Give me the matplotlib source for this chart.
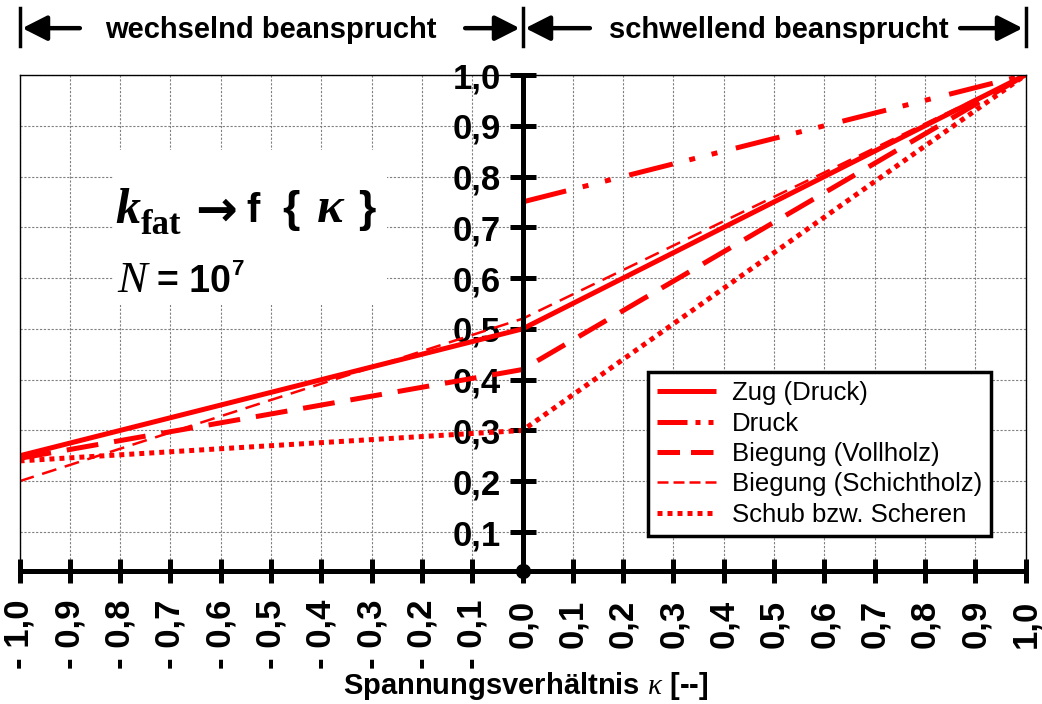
import numpy as np
import matplotlib
matplotlib.use('Agg')
import matplotlib.pyplot as plt
from matplotlib.transforms import blended_transform_factory
from matplotlib.patches import Rectangle
from matplotlib.lines import Line2D

plt.rcParams['mathtext.fontset'] = 'custom'
plt.rcParams['mathtext.rm'] = 'Liberation Sans:bold'
plt.rcParams['mathtext.it'] = 'Liberation Serif:italic'
plt.rcParams['mathtext.bf'] = 'Liberation Sans:bold'

# data
kappa = [-1.0, 0.0, 1.0]
kappa_druck = [0.0, 1.0]
zug = [0.25, 0.50, 1.00]
druck = [0.75, 1.00]
vollholz = [0.245, 0.42, 1.00]
schichtholz = [0.20, 0.52, 1.00]
schub = [0.24, 0.30, 1.00]
labels = ['Zug (Druck)', 'Druck', 'Biegung (Vollholz)',
          'Biegung (Schichtholz)', 'Schub bzw. Scheren']

x_ticks = np.linspace(-1.0, 1.0, 21)
x_ticklabels = ['- 1,0', '- 0,9', '- 0,8', '- 0,7', '- 0,6', '- 0,5', '- 0,4',
                '- 0,3', '- 0,2', '- 0,1', '0,0', '0,1', '0,2', '0,3', '0,4',
                '0,5', '0,6', '0,7', '0,8', '0,9', '1,0']
y_ticks = np.linspace(0.1, 1.0, 10)
y_ticklabels = ['0,1', '0,2', '0,3', '0,4', '0,5', '0,6', '0,7', '0,8', '0,9', '1,0']

red = '#ff0000'
sans = 'Liberation Sans'
serif = 'Liberation Serif'

# line styles: (linewidth, plot dashes, legend dashes)
styles = [
    (3.6, '-', '-'),
    (3.6, (0, (9, 3.4, 1.2, 3.4, 1.2, 3.8)), (0, (6, 1.6, 1, 1.6, 1, 2))),
    (3.6, (0, (6.4, 3.2)), (0, (4.5, 2.2))),
    (1.8, (0, (6, 3.5)), (0, (4.4, 2))),
    (3.6, (0, (1, 1)), (0, (1, 1))),
]

fig = plt.figure(figsize=(10.42, 7.04), dpi=100)
ax = fig.add_axes([19.5/1042, 133/704, 1006/1042, 496/704])
ax.set_xlim(-1.0, 1.0)
ax.set_ylim(0.0232, 1.0)

series = [(kappa, zug), (kappa_druck, druck), (kappa, vollholz),
          (kappa, schichtholz), (kappa, schub)]
handles = []
for (xs, ys), (lw, ls, ls_leg), lab in zip(series, styles, labels):
    ax.plot(xs, ys, color=red, lw=lw, ls=ls, solid_capstyle='butt',
            dash_capstyle='butt')
    handles.append(Line2D([], [], color=red, lw=lw, ls=ls_leg,
                          solid_capstyle='butt', dash_capstyle='butt', label=lab))

# frame + axes crossing at 0
ax.spines['left'].set_position(('data', 0))
ax.spines['left'].set_linewidth(3.6)
ax.spines['bottom'].set_linewidth(3.6)
ax.spines['top'].set_linewidth(1.0)
ax.spines['right'].set_linewidth(1.0)
ax.axvline(-1.0, color='k', lw=1.0, clip_on=False)
ax.plot(0, 0.0232, 'o', color='k', ms=10, clip_on=False, zorder=6)

ax.set_axisbelow(True)
ax.grid(True, color='#808080', lw=0.8, ls=(0, (2, 1.5)))

ax.set_xticks(x_ticks, x_ticklabels, fontsize=25, fontweight='bold', family=sans)
ax.set_yticks(y_ticks, y_ticklabels, fontsize=25, fontweight='bold', family=sans)
ax.tick_params(axis='both', direction='inout', width=3.6, color='k')
ax.tick_params(axis='x', length=17, pad=12, labelrotation=90)
ax.tick_params(axis='y', length=19, pad=6)

# white box behind the formula
ax.add_patch(Rectangle((0.093, 0.536), 0.272, 0.313, transform=ax.transAxes,
                       facecolor='white', edgecolor='none', zorder=0.8))
ax.text(0.0949, 0.7016, 'k', transform=ax.transAxes, family=serif, style='italic',
        weight='bold', fontsize=36, va='baseline')
ax.text(0.1208, 0.679, 'fat', transform=ax.transAxes, family=serif,
        weight='bold', fontsize=25, va='baseline')
ax.text(0.1745, 0.7238, '\u2192', transform=ax.transAxes, family='DejaVu Sans',
        weight='bold', fontsize=36, va='center')
ax.text(0.226, 0.7036, 'f', transform=ax.transAxes, family=sans,
        weight='bold', fontsize=29, va='baseline')
ax.text(0.261, 0.7036, '{', transform=ax.transAxes, family=sans,
        weight='bold', fontsize=32, va='baseline')
ax.text(0.2957, 0.7036, '\u03ba', transform=ax.transAxes, family=serif, style='italic',
        weight='bold', fontsize=36, va='baseline')
ax.text(0.3365, 0.7036, '}', transform=ax.transAxes, family=sans,
        weight='bold', fontsize=32, va='baseline')
ax.text(0.097, 0.5625, 'N', transform=ax.transAxes, family=serif, style='italic',
        fontsize=32, va='baseline')
ax.text(0.1367, 0.5625, '= 10', transform=ax.transAxes, family=sans,
        weight='bold', fontsize=27, va='baseline')
ax.text(0.2112, 0.5968, '7', transform=ax.transAxes, family=sans,
        weight='bold', fontsize=16, va='baseline')

leg = ax.legend(handles=handles, loc='upper left', bbox_to_anchor=(0.625, 0.401),
                borderaxespad=0, prop={'family': sans, 'size': 18.5}, fancybox=False,
                framealpha=1, edgecolor='k', handlelength=2.3, handletextpad=0.6,
                labelspacing=0.25, borderpad=0.35)
leg.get_frame().set_linewidth(2.5)
leg.set_zorder(7)

# header above the plot
trans = blended_transform_factory(ax.transData, fig.transFigure)
for xb in [-1.0, 0.0, 1.0]:
    fig.add_artist(Line2D([xb, xb], [0.935, 0.989], transform=trans, color='k', lw=2.5))
arrow = dict(arrowstyle='-|>,head_length=0.75,head_width=0.38', color='k', lw=3.2,
             mutation_scale=20, shrinkA=0, shrinkB=2)
for x_from, x_to in [(-0.88, -1.0), (-0.114, 0.0), (0.134, 0.0), (0.87, 1.0)]:
    ax.annotate('', xy=(x_to, 0.960), xytext=(x_from, 0.960), xycoords=trans,
                textcoords=trans, arrowprops=arrow, annotation_clip=False)
ax.text(-0.5, 0.958, 'wechselnd beansprucht', transform=trans, ha='center',
        va='center', family=sans, weight='bold', fontsize=21)
ax.text(0.51, 0.958, 'schwellend beansprucht', transform=trans, ha='center',
        va='center', family=sans, weight='bold', fontsize=21)

fig.text(526/1042, 0.0142, 'Spannungsverh\u00e4ltnis $\\kappa$ [--]',
         ha='center', va='baseline', family=sans, weight='bold', fontsize=21)

fig.savefig('out.png', dpi=100)
